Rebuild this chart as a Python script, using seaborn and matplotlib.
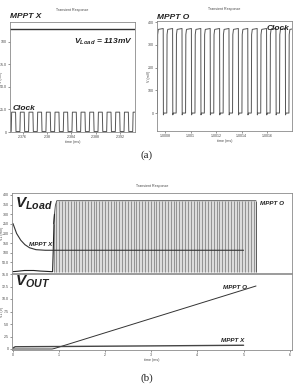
import numpy as np
import pandas as pd
import matplotlib
matplotlib.use('Agg')
import matplotlib.pyplot as plt
import seaborn as sns

# ---- (a) left: MPPT X clock + load voltage (mV vs ms) ----
clk_x_start = 2.3741
clk_x_period = 0.00143
clk_x_cycles = 14
clk_x_high = 22
clk_x_low = 0.5
vload_x_level = 114
a1_xticks = [2.376, 2.380, 2.384, 2.388, 2.392]
a1_xlabels = ['2.376', '2.38', '2.384', '2.388', '2.392']
a1_yticks = [0, 25, 50, 75, 100]
a1_ylabels = ['0', '25.0', '50.0', '75.0', '100']

# ---- (a) right: MPPT O clock pulses ----
clk_o_start = 1.00074
clk_o_period = 0.0000737
clk_o_cycles = 14
clk_o_shape_t = [0, 0.03, 0.10, 0.62, 0.64, 0.70, 1.0]   # fraction of one period
clk_o_shape_v = [0, 345, 368, 372, -8, 0, 0]
a2_xticks = [1.0008, 1.0010, 1.0012, 1.0014, 1.0016]
a2_xlabels = ['1.0008', '1.001', '1.0012', '1.0014', '1.0016']
a2_yticks = [0, 100, 200, 300, 400]
a2_ylabels = ['0', '100', '200', '300', '400']

# ---- (b) top: VLoad (mV vs ms) ----
vl_x_t = [0, 0.08, 0.17, 0.26, 0.36, 0.5, 0.7, 5.0]
vl_x_v = [252, 200, 165, 142, 126, 116, 113, 113]
vl_o_t = [0, 0.1, 0.25, 0.45, 0.6, 0.84, 0.86, 0.875, 0.89, 0.9]
vl_o_v = [2, 4, 8, 8, 5, 2, 2, 120, 250, 300]
vl_o_env_t = [0.88, 0.9, 0.92, 0.95, 5.27]
vl_o_env_v = [250, 300, 345, 370, 370]
vl_o_clk_period = 0.062
b1_yticks = [50, 100, 150, 200, 250, 300, 350, 400]
b1_ylabels = ['50.0', '100', '150', '200', '250', '300', '350', '400']

# ---- (b) bottom: VOUT (V vs ms) ----
vout_o_t = [0, 0.85, 0.9, 5.27]
vout_o_v = [0, 0, 0.1, 12.6]
vout_x_t = [0, 0.05, 1, 3, 5]
vout_x_v = [0.2, 0.45, 0.5, 0.62, 0.75]
b2_xticks = [0, 1, 2, 3, 4, 5, 6]
b2_yticks = [0, 2.5, 5.0, 7.5, 10.0, 12.5, 15.0]
b2_ylabels = ['0', '2.5', '5.0', '7.5', '10.0', '12.5', '15.0']

sns.set_style('white')
plt.rcParams['font.family'] = ['Liberation Sans', 'DejaVu Sans']
plt.rcParams['mathtext.fontset'] = 'custom'
plt.rcParams['mathtext.it'] = 'Liberation Sans:bold:italic'
plt.rcParams['mathtext.rm'] = 'Liberation Sans:bold:italic'

W, H = 294, 391
fig = plt.figure(figsize=(W / 100, H / 100), dpi=100)
fig.patch.set_facecolor('white')


def box(x0, y0, x1, y1):
    return [x0 / W, 1 - y1 / H, (x1 - x0) / W, (y1 - y0) / H]


def style(ax, tick_size=2.6):
    for s in ax.spines.values():
        s.set_color('#8a8a8a')
        s.set_linewidth(0.6)
    ax.tick_params(labelsize=tick_size, length=1.2, width=0.4, pad=1,
                   colors='#444444', bottom=True, left=True)


lab = dict(fontsize=6, fontweight='bold', style='italic', color='#222222')
tiny = dict(fontsize=2.6, color='#444444')

# ---------------- (a) left ----------------
ax1 = fig.add_axes(box(10, 22, 135, 132))
t_clk = []
v_clk = []
for k in range(clk_x_cycles + 1):
    s = clk_x_start + k * clk_x_period
    t_clk += [s, s + 0.05 * clk_x_period, s + 0.5 * clk_x_period, s + 0.55 * clk_x_period]
    v_clk += [clk_x_low, clk_x_high, clk_x_high, clk_x_low]
sns.lineplot(x=t_clk, y=v_clk, ax=ax1, color='#555555', lw=0.7,
             estimator=None, sort=False)
ax1.axhline(vload_x_level, color='#333333', lw=1.0)
ax1.set_xlim(2.3739, 2.3945)
ax1.set_ylim(0, 122)
ax1.set_xticks(a1_xticks, a1_xlabels)
ax1.set_yticks(a1_yticks, a1_ylabels)
ax1.set_xlabel('time (ms)', **tiny, labelpad=1)
ax1.set_ylabel('V (mV)', **tiny)
ax1.yaxis.set_label_coords(-0.055, 0.5)
style(ax1)
ax1.set_title('Transient Response', **tiny, pad=8)
ax1.text(0.0, 1.02, 'MPPT X', transform=ax1.transAxes, ha='left', va='bottom', **lab)
ax1.text(0.98, 0.82, r'$V_{Load}$ = 113mV', transform=ax1.transAxes,
         ha='right', va='center', **lab)
ax1.text(0.02, 0.21, 'Clock', transform=ax1.transAxes, ha='left', va='center', **lab)

# ---------------- (a) right ----------------
ax2 = fig.add_axes(box(157, 21, 292, 131))
t_o = []
v_o = []
for k in range(clk_o_cycles + 1):
    s = clk_o_start + k * clk_o_period
    t_o += [s + f * clk_o_period for f in clk_o_shape_t]
    v_o += clk_o_shape_v
sns.lineplot(x=t_o, y=v_o, ax=ax2, color='#555555', lw=0.7,
             estimator=None, sort=False)
ax2.set_xlim(1.000737, 1.001796)
ax2.set_ylim(-79, 405)
ax2.set_xticks(a2_xticks, a2_xlabels)
ax2.set_yticks(a2_yticks, a2_ylabels)
ax2.set_xlabel('time (ms)', **tiny, labelpad=1)
ax2.set_ylabel('V (mV)', **tiny)
ax2.yaxis.set_label_coords(-0.045, 0.5)
style(ax2)
ax2.set_title('Transient Response', **tiny, pad=8)
ax2.text(0.0, 1.0, 'MPPT O', transform=ax2.transAxes, ha='left', va='bottom', **lab)
ax2.text(0.98, 0.96, 'Clock', transform=ax2.transAxes, ha='right', va='top', **lab)

fig.text(147 / W, 1 - 155 / H, '(a)', ha='center', va='center',
         fontsize=8, family='Liberation Serif')

# ---------------- (b) top ----------------
ax3 = fig.add_axes(box(12, 193, 292, 273))
ax3.fill_between(vl_o_env_t, 0, vl_o_env_v, color='#dcdcdc', lw=0)
edges = np.arange(vl_o_env_t[0], vl_o_env_t[-1], vl_o_clk_period)
ax3.vlines(edges, 0, np.interp(edges, vl_o_env_t, vl_o_env_v),
           color='#6a6a6a', lw=0.45)
ax3.plot(vl_o_env_t, vl_o_env_v, color='#444444', lw=0.6)
ax3.vlines(vl_o_env_t[-1], 0, vl_o_env_v[-1], color='#444444', lw=0.6)
sns.lineplot(x=vl_o_t, y=vl_o_v, ax=ax3, color='#222222', lw=0.8,
             estimator=None, sort=False)
sns.lineplot(x=vl_x_t, y=vl_x_v, ax=ax3, color='#333333', lw=0.8,
             estimator=None, sort=False)
ax3.set_xlim(-0.02, 6.05)
ax3.set_ylim(-5, 410)
ax3.set_xticks([])
ax3.set_yticks(b1_yticks, b1_ylabels)
ax3.set_ylabel('V1 (mV)', **tiny)
ax3.yaxis.set_label_coords(-0.028, 0.5)
style(ax3)
ax3.set_title('Transient Response', **tiny, pad=4)
ax3.text(0.012, 0.86, r'$V_{Load}$', transform=ax3.transAxes, ha='left',
         va='center', fontsize=11, fontweight='bold', style='italic', color='#222222')
ax3.text(0.06, 0.36, 'MPPT X', transform=ax3.transAxes, ha='left',
         va='center', fontsize=4.5, fontweight='bold', style='italic', color='#222222')
ax3.text(0.885, 0.87, 'MPPT O', transform=ax3.transAxes, ha='left',
         va='center', fontsize=4.5, fontweight='bold', style='italic', color='#222222')

# ---------------- (b) bottom ----------------
ax4 = fig.add_axes(box(12, 274, 292, 350))
sns.lineplot(x=vout_o_t, y=vout_o_v, ax=ax4, color='#333333', lw=0.7,
             estimator=None, sort=False)
sns.lineplot(x=vout_x_t, y=vout_x_v, ax=ax4, color='#444444', lw=1.0,
             estimator=None, sort=False)
ax4.set_xlim(-0.02, 6.05)
ax4.set_ylim(-0.2, 15)
ax4.set_xticks(b2_xticks, [str(v) for v in b2_xticks])
ax4.set_yticks(b2_yticks, b2_ylabels)
ax4.set_xlabel('time (ms)', **tiny, labelpad=1)
ax4.set_ylabel('V1 (V)', **tiny)
ax4.yaxis.set_label_coords(-0.028, 0.5)
style(ax4)
ax4.text(0.012, 0.9, r'$V_{OUT}$', transform=ax4.transAxes, ha='left',
         va='center', fontsize=11, fontweight='bold', style='italic', color='#222222')
ax4.text(0.755, 0.82, 'MPPT O', transform=ax4.transAxes, ha='left',
         va='center', fontsize=4.5, fontweight='bold', style='italic', color='#222222')
ax4.text(0.745, 0.12, 'MPPT X', transform=ax4.transAxes, ha='left',
         va='center', fontsize=4.5, fontweight='bold', style='italic', color='#222222')

fig.text(147 / W, 1 - 378 / H, '(b)', ha='center', va='center',
         fontsize=8, family='Liberation Serif')

fig.savefig('out.png', dpi=100, facecolor='white')
